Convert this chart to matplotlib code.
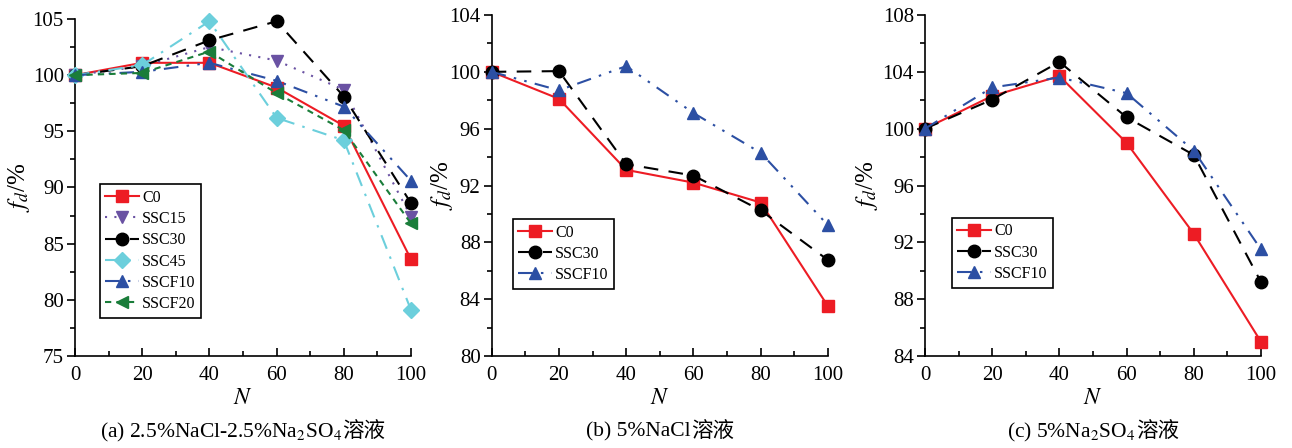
import matplotlib
matplotlib.use("Agg")
import matplotlib.pyplot as plt
from matplotlib.ticker import MultipleLocator

plt.rcParams['font.family'] = ['Liberation Serif', 'Noto Sans CJK SC']
plt.rcParams['mathtext.fontset'] = 'stix'

N = [0, 20, 40, 60, 80, 100]

# Panel (a): 2.5%NaCl-2.5%Na2SO4
a_C0 = [100, 101.1, 101.1, 98.9, 95.5, 83.6]
a_SSC15 = [100, 100.8, 102.5, 101.3, 98.7, 87.4]
a_SSC30 = [100, 100.8, 103.1, 104.8, 98.1, 88.6]
a_SSC45 = [100, 100.9, 104.8, 96.2, 94.2, 79.1]
a_SSCF10 = [100, 100.3, 101.1, 99.5, 97.2, 90.6]
a_SSCF20 = [100, 100.2, 102.1, 98.4, 95.1, 86.8]

# Panel (b): 5%NaCl
b_C0 = [100, 98.1, 93.1, 92.2, 90.8, 83.5]
b_SSC30 = [100, 100.05, 93.5, 92.7, 90.25, 86.75]
b_SSCF10 = [100, 98.7, 100.4, 97.1, 94.3, 89.2]

# Panel (c): 5%Na2SO4
c_C0 = [100, 102.3, 103.7, 99.0, 92.6, 85.0]
c_SSC30 = [100, 102.05, 104.7, 100.8, 98.15, 89.2]
c_SSCF10 = [100, 102.9, 103.6, 102.5, 98.45, 91.5]

styles = {
    'C0': dict(color='#ed1c24', ls='-', marker='s', lw=1.5, ms=8),
    'SSC15': dict(color='#6a52a3', ls=(0, (1, 3.5)), marker='v', lw=1.5, ms=9),
    'SSC30': dict(color='black', ls=(0, (7, 5)), marker='o', lw=1.5, ms=9),
    'SSC45': dict(color='#6ccfdc', ls=(0, (7, 4, 1.2, 4)), marker='D', lw=1.5, ms=8),
    'SSCF10': dict(color='#2c4fa3', ls=(0, (7, 4, 1.2, 4, 1.2, 4)), marker='^', lw=1.5, ms=9),
    'SSCF20': dict(color='#1a7d3a', ls=(0, (3, 2.5)), marker='<', lw=1.5, ms=9),
}

W, H = 1292, 448
fig = plt.figure(figsize=(W / 100, H / 100), dpi=100)

def add_ax(l, r, t, b):
    return fig.add_axes([l / W, 1 - b / H, (r - l) / W, (b - t) / H])

panels = [
    dict(box=(75, 411, 19, 356), ylim=(75, 105), ymaj=5, ymin=2.5,
         series=[('C0', a_C0), ('SSC15', a_SSC15), ('SSC30', a_SSC30),
                 ('SSC45', a_SSC45), ('SSCF10', a_SSCF10), ('SSCF20', a_SSCF20)],
         leg=(0.074, 0.51), ylab=-0.128,
         caption=('(a) 2.5%NaCl-2.5%Na$_2$SO$_4$', '溶液')),
    dict(box=(491.7, 828, 15, 356), ylim=(80, 104), ymaj=4, ymin=2,
         series=[('C0', b_C0), ('SSC30', b_SSC30), ('SSCF10', b_SSCF10)],
         leg=(0.063, 0.402), ylab=-0.109,
         caption=('(b) 5%NaCl', '溶液')),
    dict(box=(925, 1261, 15, 356), ylim=(84, 108), ymaj=4, ymin=2,
         series=[('C0', c_C0), ('SSC30', c_SSC30), ('SSCF10', c_SSCF10)],
         leg=(0.080, 0.405), ylab=-0.134,
         caption=('(c) 5%Na$_2$SO$_4$', '溶液')),
]

captions = []
for p in panels:
    l, r, t, b = p['box']
    ax = add_ax(l, r, t, b)
    for name, vals in p['series']:
        st = styles[name]
        ax.plot(N, vals, label=name, color=st['color'], linestyle=st['ls'],
                marker=st['marker'], lw=st['lw'], markersize=st['ms'],
                markeredgecolor=st['color'], clip_on=False, zorder=3)
    ax.set_xlim(0, 100)
    ax.set_ylim(*p['ylim'])
    ax.xaxis.set_major_locator(MultipleLocator(20))
    ax.xaxis.set_minor_locator(MultipleLocator(10))
    ax.yaxis.set_major_locator(MultipleLocator(p['ymaj']))
    ax.yaxis.set_minor_locator(MultipleLocator(p['ymin']))
    ax.spines['top'].set_visible(False)
    ax.spines['right'].set_visible(False)
    for s in ('left', 'bottom'):
        ax.spines[s].set_linewidth(1.2)
    ax.tick_params(axis='x', which='major', direction='in', length=6, width=1.2,
                   labelsize=15, pad=7)
    ax.tick_params(axis='x', which='minor', direction='in', length=3.5, width=1.2)
    ax.tick_params(axis='y', which='major', direction='out', length=6, width=1.2,
                   labelsize=15, pad=2)
    ax.tick_params(axis='y', which='minor', direction='out', length=3.5, width=1.2)
    ax.set_xlabel('$N$', fontsize=17, labelpad=2)
    ax.set_ylabel('$f_d$/%', fontsize=18)
    ax.yaxis.set_label_coords(p['ylab'], 0.5)
    leg = ax.legend(loc='upper left', bbox_to_anchor=p['leg'], borderaxespad=0,
                    fontsize=11.5, frameon=True, fancybox=False, framealpha=1,
                    edgecolor='black', handlelength=2.1, handletextpad=0.2,
                    borderpad=0.35, labelspacing=0.33)
    leg.get_frame().set_linewidth(1.2)
    ycap = 1 - 432 / H
    t1 = fig.text(0, ycap, p['caption'][0], ha='left', va='center', fontsize=15.5)
    t2 = fig.text(0, ycap, p['caption'][1], ha='left', va='center', fontsize=15.5,
                  family=['Noto Sans CJK SC'])
    captions.append(((l + r) / 2, t1, t2))

fig.canvas.draw()
renderer = fig.canvas.get_renderer()
for cx, t1, t2 in captions:
    w1 = t1.get_window_extent(renderer).width
    w2 = t2.get_window_extent(renderer).width
    x0 = cx - (w1 + w2) / 2
    t1.set_x(x0 / W)
    t2.set_x((x0 + w1) / W)

fig.savefig('out.png', dpi=100)
